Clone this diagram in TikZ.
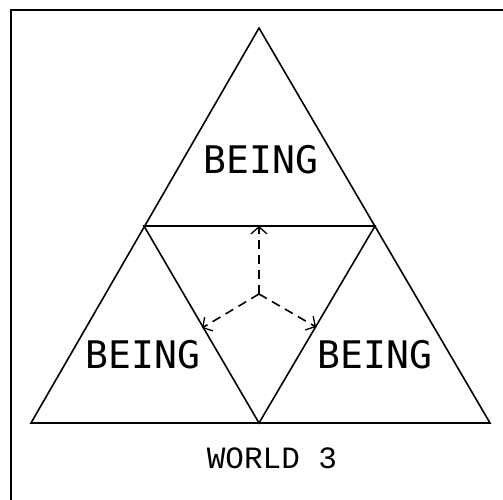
\documentclass[tikz,border=0pt]{standalone}
\usepackage{fontspec}
\newfontfamily\beingfont{DejaVu Sans Mono}
\newfontfamily\worldfont{Liberation Mono}
\usetikzlibrary{arrows.meta}
\tikzset{
  tri/.style={line width=1.6pt, line join=miter},
  frame/.style={line width=1.6pt},
  dasharrow/.style={line width=1.6pt, dash pattern=on 9pt off 6pt, -{Straight Barb[length=7pt,width=16pt,line width=1.3pt]}},
  beinglbl/.style={font=\beingfont\fontsize{38}{38}\selectfont, inner sep=0pt},
  worldlbl/.style={font=\worldfont\fontsize{31}{31}\selectfont, inner sep=0pt}
}
\begin{document}
\begin{tikzpicture}[x=1pt,y=-1pt]
\useasboundingbox (0,0) rectangle (503,500);
% frame (top and left edges)
\draw[frame] (11,500) -- (11,10) -- (503,10);
% triangle corners
\coordinate (A) at (259,28);
\coordinate (L) at (31,423);
\coordinate (R) at (490,423);
\coordinate (ML) at (144,226);
\coordinate (MR) at (375,226);
\coordinate (MB) at (259,423);
\draw[tri] (A) -- (R) -- (L) -- cycle;
\draw[tri] (ML) -- (MR) -- (MB) -- cycle;
% dashed arrows
\coordinate (C) at (259,294);
\coordinate (Tup) at (259,226);
\coordinate (Tl) at (202,328);
\coordinate (Tr) at (316,327);
\draw[dasharrow] (C) -- (Tup);
\draw[dasharrow] (C) -- (Tl);
\draw[dasharrow] (C) -- (Tr);
% labels
\node[beinglbl] (b1) at (261,160) {BEING};
\node[beinglbl] (b2) at (143,355) {BEING};
\node[beinglbl] (b3) at (375,355) {BEING};
\node[worldlbl] (w) at (272,458) {WORLD 3};
\end{tikzpicture}
\end{document}
